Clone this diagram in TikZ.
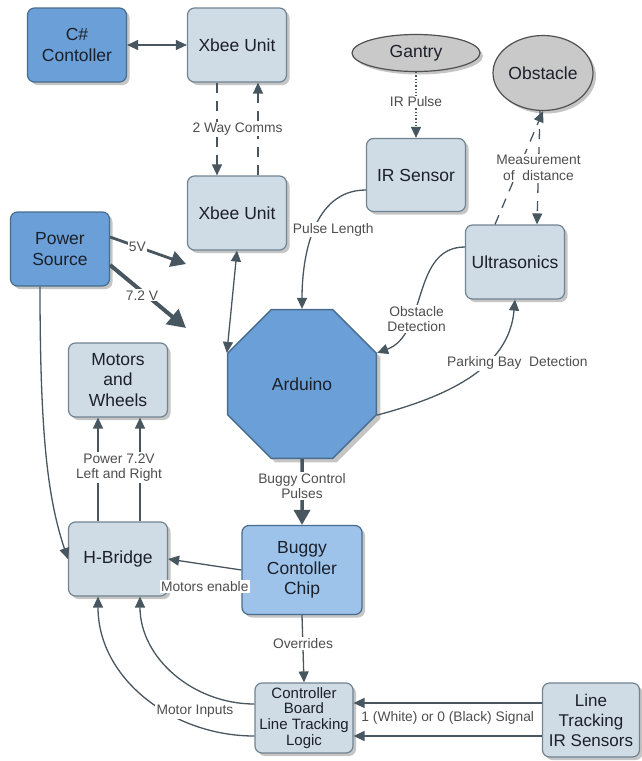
\documentclass[tikz,border=0pt]{standalone}
\usepackage{fontspec}
\setmainfont{Liberation Sans}
\usetikzlibrary{arrows.meta,shapes.geometric,shadows}
\definecolor{darkblue}{RGB}{106,159,216}
\definecolor{midblue}{RGB}{158,195,234}
\definecolor{boxfill}{RGB}{207,219,229}
\definecolor{boxline}{RGB}{112,132,146}
\definecolor{blueline}{RGB}{72,108,140}
\definecolor{ellfill}{RGB}{201,201,201}
\definecolor{ellline}{RGB}{80,80,80}
\definecolor{ln}{RGB}{72,86,96}
\definecolor{labelgray}{RGB}{78,78,78}
\definecolor{boxtext}{RGB}{28,32,42}

\begin{document}
\begin{tikzpicture}[x=1pt,y=1pt]
\tikzstyle{every node}+=[inner sep=0pt,align=center,text=boxtext,font=\fontsize{17.5}{20.5}\selectfont]
\tikzstyle{unit}=[draw=boxline,line width=1.2pt,fill=boxfill,rounded corners=7pt,minimum width=99pt,minimum height=74pt,drop shadow={shadow xshift=3pt,shadow yshift=-3pt,fill=black!45,opacity=0.5}]
\tikzstyle{unitblue}=[unit,draw=blueline,fill=darkblue]
\tikzstyle{ell}=[ellipse,draw=ellline,line width=1.2pt,fill=ellfill,drop shadow={shadow xshift=3pt,shadow yshift=-3pt,fill=black!45,opacity=0.5}]
\tikzstyle{octo}=[regular polygon,regular polygon sides=8,minimum size=161pt,draw=blueline,line width=1.5pt,fill=darkblue,drop shadow={shadow xshift=4pt,shadow yshift=-4pt,fill=black!45,opacity=0.5}]
\tikzstyle{lbl}=[fill=white,inner sep=1.2pt,text=labelgray,font=\fontsize{13.8}{15.5}\selectfont]
\tikzstyle{con}=[draw=ln,line width=1.3pt,-{Triangle[length=11pt,width=10pt]}]
\tikzstyle{dcon}=[con,{Triangle[length=11pt,width=10pt]}-{Triangle[length=11pt,width=10pt]}]
\tikzstyle{fat}=[draw=ln,line width=3.5pt,-{Triangle[length=15pt,width=16pt]}]
\tikzstyle{dashline}=[dash pattern=on 10pt off 8pt]
\useasboundingbox (0,0) rectangle (641,-761);

\node [unitblue] (csharp) at (77,-45) {C\#\\Contoller};
\node [unit] (xbeeTop) at (237,-45) {Xbee Unit};
\node [unit] (xbeeBot) at (237,-213) {Xbee Unit};
\node [ell,minimum width=128pt,minimum height=37pt] (gantry) at (416,-53) {Gantry};
\node [ell,minimum width=100pt,minimum height=75pt] (obstacle) at (543,-73) {Obstacle};
\node [unit,minimum height=73pt] (irsensor) at (416,-175) {IR Sensor};
\node [unit] (ultra) at (515,-262) {Ultrasonics};
\node [unitblue] (power) at (60,-249) {Power\\Source};
\node [unit] (motors) at (118,-380) {Motors\\and\\Wheels};
\node [octo] (arduino) at (302,-384) {Arduino};
\node [unit] (hbridge) at (118,-559) {H-Bridge};
\node [unit,fill=midblue,draw=blueline,minimum width=120pt,minimum height=89pt] (buggy) at (302,-570) {Buggy\\Contoller\\Chip};
\node [unit,minimum width=98pt,minimum height=70pt,font=\fontsize{15}{15.8}\selectfont] (ctrlboard) at (304,-718) {Controller\\Board\\Line Tracking\\Logic};
\node [unit,minimum width=97pt,font=\fontsize{17}{20}\selectfont] (linetrack) at (591,-720) {Line\\Tracking\\IR Sensors};
\coordinate (vfive) at (186,-264);
\coordinate (vseven) at (186,-328);

\draw [dcon] (csharp) -- (xbeeTop);
\draw [con,dashline] ([xshift=-20pt]xbeeTop.south) -- ([xshift=-20pt]xbeeBot.north);
\draw [con,dashline] ([xshift=21pt]xbeeBot.north) -- ([xshift=21pt]xbeeTop.south) node [lbl,midway,xshift=-20.5pt] {2 Way Comms};
\draw [con,dash pattern=on 1.3pt off 2pt] (gantry.south) -- (irsensor.north) node [lbl,midway,yshift=3pt] {IR Pulse};
\draw [con,dashline] ([xshift=-20pt]ultra.north) -- (obstacle.south);
\draw [con,dashline] ([xshift=-3pt]obstacle.south) -- ([xshift=22pt]ultra.north) node [lbl,midway] {Measurement\\of\ \ distance};
\draw [con] ([yshift=-15pt]irsensor.west) to[out=180,in=90] node [lbl,pos=0.5,xshift=19pt] {Pulse Length} (arduino.north);
\draw [con] ([yshift=15pt]ultra.west) to[out=180,in=20] node [lbl,pos=0.68,xshift=7pt] {Obstacle\\Detection} (arduino.corner 8);
\draw [con] (arduino.corner 7) to[out=15,in=-95] node [lbl,pos=0.6,xshift=34pt,yshift=2pt] {Parking Bay\ \ Detection} (ultra.south);
\draw [dcon] (xbeeBot.south) -- (arduino.corner 3);
\draw [fat,line width=2.8pt] ([yshift=12pt]power.east) -- (vfive) node [lbl,pos=0.36] {5V};
\draw [fat,line width=4pt,-{Triangle[length=18pt,width=19pt]}] ([yshift=-16pt]power.east) -- (vseven) node [lbl,pos=0.42,yshift=-4pt] {7.2 V};
\draw [con] ([xshift=-20pt]power.south) .. controls +(0,-150) and +(-20,60) .. (hbridge.west);
\draw [con] ([xshift=-20pt]hbridge.north) -- ([xshift=-20pt]motors.south);
\draw [con] ([xshift=22pt]hbridge.north) -- ([xshift=22pt]motors.south) node [lbl,midway,xshift=-21pt,yshift=2pt] {Power 7.2V\\Left and Right};
\draw [con] (buggy.west) -- (hbridge.east) node [lbl,midway,yshift=-22pt] {Motors enable};
\draw [fat] (arduino.south) -- (buggy.north) node [lbl,midway,yshift=6pt] {Buggy Control\\Pulses};
\draw [con] (buggy.south) -- (ctrlboard.north) node [lbl,midway,yshift=5pt] {Overrides};
\draw [con] ([yshift=14pt]ctrlboard.west) to[out=180,in=-90] ([xshift=22pt]hbridge.south);
\draw [con] ([yshift=-18pt]ctrlboard.west) to[out=180,in=-90] node [lbl,pos=0.35,xshift=21pt,yshift=5pt] {Motor Inputs} ([xshift=-20pt]hbridge.south);
\draw [con] ([yshift=17pt]linetrack.west) -- ([yshift=15pt]ctrlboard.east);
\draw [con] ([yshift=-16pt]linetrack.west) -- ([yshift=-18pt]ctrlboard.east) node [midway,yshift=18pt,text=labelgray,font=\fontsize{13.8}{15.5}\selectfont] {1 (White) or 0 (Black) Signal};
\end{tikzpicture}
\end{document}
